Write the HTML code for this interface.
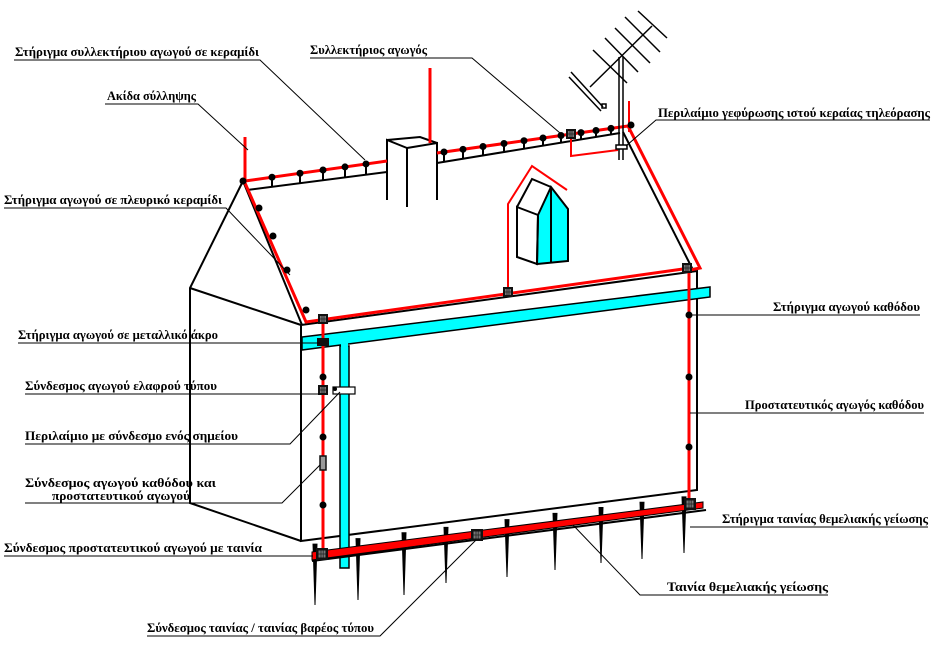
<!DOCTYPE html>
<html><head><meta charset="utf-8">
<style>
html,body{margin:0;padding:0;background:#fff;}
svg{display:block;}
text{font-family:"Liberation Serif","DejaVu Serif",serif;font-weight:bold;font-size:13px;fill:#000;}
</style></head>
<body>
<svg id="s" width="946" height="666" viewBox="0 0 946 666" xmlns="http://www.w3.org/2000/svg">
<defs>
<g id="box"><rect x="-5" y="-5" width="10" height="10" fill="#111"/><rect x="-3" y="-3" width="6" height="6" fill="#777"/><path d="M-1-3V3M1-3V3M-3 0H3" stroke="#222" stroke-width="0.8"/></g>
<g id="bbox"><rect x="-6" y="-6" width="12" height="12" fill="#111"/><rect x="-3.5" y="-3.5" width="7" height="7" fill="#777"/><path d="M-1-3.5V3.5M1.2-3.5V3.5M-3.5 0H3.5" stroke="#222" stroke-width="0.8"/></g>
</defs>
<g fill="none" stroke="#000" stroke-width="2">
<path d="M243 181 L190 288 L190 503 L301 541"/>
<path d="M190 288 L301 325"/>
<path d="M243 181 L302 325"/>
<path d="M301 325 L301 541 L697 490 L697 271 L301 325"/>
<path d="M623 132 L693 270"/>
<path d="M247 190 L387 172"/>
<path d="M437 163 L620 133"/>
</g>
<g fill="#fff" stroke="#000" stroke-width="2">
<path d="M387 200 L387 140 L407 148 L407 207 M407 148 L437 143 L437 200 M387 140 L420 137 L437 143" fill="none"/>
</g>
<polygon points="302,337 710,287 710,297 302,350" fill="#00ffff" stroke="#000" stroke-width="1.5"/>
<rect x="340" y="346" width="9" height="222" fill="#00ffff" stroke="#000" stroke-width="1.5"/>
<rect x="341" y="340" width="7" height="12" fill="#00ffff"/>
<g fill="none" stroke="#f00" stroke-width="3">
<path d="M245 137 L245 181 L387 161"/>
<path d="M430 68 L430 143"/>
<path d="M437 153 L628 126"/>
<path d="M245 183 L306 322 L690 268"/>
<path d="M628 126 L700 268 L690 270"/>
<path d="M323 322 L323 556"/>
<path d="M689 270 L689 505"/>
</g>
<g fill="none" stroke="#f00" stroke-width="2">
<path d="M508 292 L508 204 L532 166 L567 190"/>
<path d="M571 137 L571 156 L618 150"/>
<path d="M629 101 L629 132"/>
</g>
<polygon points="538,215 551,187 568,209 568,261 537,264" fill="#00ffff" stroke="#000" stroke-width="2"/>
<path d="M517 207 L532 179 L551 187 M517 207 L538 215 L537 264 L517 257 Z M551 187 L551 262" fill="none" stroke="#000" stroke-width="2"/>
<g stroke="#000" stroke-width="1.5" fill="none">
<path d="M619 57 L619 160 M623 57 L623 160"/>
<rect x="616" y="145" width="11" height="4" fill="#fff"/>
<path d="M590 87 L652 26"/>
<path d="M571 72 L603 107 M569 77 L601 111"/>
<path d="M593 50 L627 83 M605 38 L638 72 M615 28 L650 63 M625 17 L660 52 M638 11 L667 38"/>
<rect x="602" y="104" width="4" height="4"/>
</g>
<g id="dots"></g>
<g id="spikes"></g>
<polygon points="312,552 703,502 703,508 312,560" fill="#f00" stroke="#000" stroke-width="1"/>
<path d="M312 561 L706 510" stroke="#000" stroke-width="2"/>
<use href="#box" x="323" y="319"/>
<use href="#box" x="508" y="292"/>
<use href="#box" x="687" y="268"/>
<use href="#box" x="571" y="134"/>
<use href="#box" x="323" y="390"/>
<rect x="317" y="338" width="12" height="8" fill="#111"/>
<rect x="320" y="456" width="6" height="14" fill="#999" stroke="#111" stroke-width="1.5"/>
<rect x="333" y="387" width="22" height="7" fill="#fff" stroke="#000" stroke-width="1.2"/>
<circle cx="335" cy="389" r="2" fill="#000"/>
<use href="#bbox" x="322" y="554"/>
<use href="#bbox" x="477" y="535"/>
<use href="#bbox" x="690" y="504"/>
<g stroke="#000" stroke-width="1" fill="none">
<path d="M14 60 L260 60 L365 160"/>
<path d="M310 58 L472 58 L560 133"/>
<path d="M105 104 L198 104 L248 150"/>
<path d="M4 208 L226 208 L290 275"/>
<path d="M930 120 L656 120 L626 146"/>
<path d="M18 343 L320 343"/>
<path d="M25 394 L320 394"/>
<path d="M25 444 L290 444 L340 392"/>
<path d="M25 503 L282 503 L320 465"/>
<path d="M4 556 L313 556"/>
<path d="M147 636 L380 636 L476 540"/>
<path d="M828 595 L640 595 L573 525"/>
<path d="M928 527 L690 527"/>
<path d="M924 413 L690 413"/>
<path d="M920 315 L692 315"/>
</g>
<text x="15" y="56" textLength="244" lengthAdjust="spacingAndGlyphs">Στήριγμα συλλεκτήριου αγωγού σε κεραμίδι</text>
<text x="310" y="54" textLength="117" lengthAdjust="spacingAndGlyphs">Συλλεκτήριος αγωγός</text>
<text x="107" y="100" textLength="89" lengthAdjust="spacingAndGlyphs">Ακίδα σύλληψης</text>
<text x="658" y="117" textLength="272" lengthAdjust="spacingAndGlyphs">Περιλαίμιο γεφύρωσης ιστού κεραίας τηλεόρασης</text>
<text x="4" y="204" textLength="218" lengthAdjust="spacingAndGlyphs">Στήριγμα αγωγού σε πλευρικό κεραμίδι</text>
<text x="18" y="339" textLength="200" lengthAdjust="spacingAndGlyphs">Στήριγμα αγωγού σε μεταλλικό άκρο</text>
<text x="25" y="390" textLength="192" lengthAdjust="spacingAndGlyphs">Σύνδεσμος αγωγού ελαφρού τύπου</text>
<text x="25" y="440" textLength="213" lengthAdjust="spacingAndGlyphs">Περιλαίμιο με σύνδεσμο ενός σημείου</text>
<text x="25" y="487" textLength="191" lengthAdjust="spacingAndGlyphs">Σύνδεσμος αγωγού καθόδου και</text>
<text x="52" y="500" textLength="138" lengthAdjust="spacingAndGlyphs">προστατευτικού αγωγού</text>
<text x="4" y="552" textLength="258" lengthAdjust="spacingAndGlyphs">Σύνδεσμος προστατευτικού αγωγού με ταινία</text>
<text x="147" y="632" textLength="227" lengthAdjust="spacingAndGlyphs">Σύνδεσμος ταινίας / ταινίας βαρέος τύπου</text>
<text x="667" y="591" textLength="161" lengthAdjust="spacingAndGlyphs">Ταινία θεμελιακής γείωσης</text>
<text x="722" y="523" textLength="206" lengthAdjust="spacingAndGlyphs">Στήριγμα ταινίας θεμελιακής γείωσης</text>
<text x="745" y="409" textLength="179" lengthAdjust="spacingAndGlyphs">Προστατευτικός αγωγός καθόδου</text>
<text x="773" y="311" textLength="147" lengthAdjust="spacingAndGlyphs">Στήριγμα αγωγού καθόδου</text>
</svg>
<script>
var NS="http://www.w3.org/2000/svg";
function el(p,t,a){var e=document.createElementNS(NS,t);for(var k in a)e.setAttribute(k,a[k]);p.appendChild(e);return e;}
var d=document.getElementById("dots");
function ry1(x){return 181-(x-245)*20/142;} function by1(x){return 190-(x-247)*18/140;}
function ry2(x){return 153-(x-437)*27/191;} function by2(x){return 163-(x-437)*30/183;}
[272,300,323,345,366].forEach(function(x){el(d,"path",{d:"M"+x+" "+ry1(x)+"V"+by1(x),stroke:"#000","stroke-width":2});el(d,"circle",{cx:x,cy:ry1(x),r:3.5,fill:"#000"});});
[444,463,483,504,524,543,561,581,596,611].forEach(function(x){el(d,"path",{d:"M"+x+" "+ry2(x)+"V"+by2(x),stroke:"#000","stroke-width":2});el(d,"circle",{cx:x,cy:ry2(x),r:3.5,fill:"#000"});});
el(d,"circle",{cx:243,cy:181,r:3.5,fill:"#000"});
el(d,"circle",{cx:631,cy:125,r:3.5,fill:"#000"});
[[259,208],[273,236],[287,270],[306,310],[323,377],[323,437],[323,505],[689,315],[689,377],[689,447]].forEach(function(p){el(d,"circle",{cx:p[0],cy:p[1],r:3.5,fill:"#000"});});
var s=document.getElementById("spikes");
[[315,605],[358,600],[404,595],[446,583],[507,577],[555,570],[601,563],[642,559],[684,553]].forEach(function(p){
var x=p[0],top=552-(x-312)*50/391-8;
el(s,"polygon",{points:(x-2.5)+","+top+" "+(x+2.5)+","+top+" "+(x+0.5)+","+p[1]+" "+(x-0.5)+","+p[1],fill:"#000"});});
</script>
</body></html>
